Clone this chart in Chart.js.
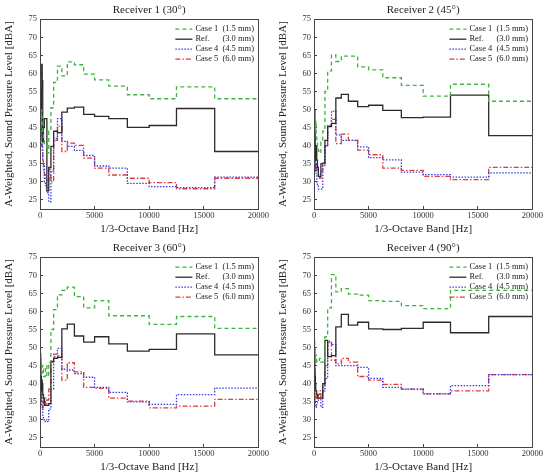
<!DOCTYPE html>
<html>
<head>
<meta charset="utf-8">
<script src="https://cdn.jsdelivr.net/npm/chart.js@4"></script>
<style>
  body { margin: 0; background: #fff; }
  .cell { position: absolute; width: 274px; height: 238px; }
</style>
</head>
<body>
<div class="cell" style="left:0;top:0"><canvas id="r1" width="274" height="238"></canvas></div>
<div class="cell" style="left:274px;top:0"><canvas id="r2" width="274" height="238"></canvas></div>
<div class="cell" style="left:0;top:238px"><canvas id="r3" width="274" height="238"></canvas></div>
<div class="cell" style="left:274px;top:238px"><canvas id="r4" width="274" height="238"></canvas></div>
<script>
// 1/3-octave band centre frequencies [Hz]
const bands = [20, 25, 31.5, 40, 50, 63, 80, 100, 125, 160, 200, 250, 315, 400, 500, 630, 800,
    1000, 1250, 1600, 2000, 2500, 3150, 4000, 5000, 6300, 8000, 10000, 12500, 16000, 20000];

const seriesNames = ['Case 1', 'Ref.', 'Case 4', 'Case 5'];
const thicknesses = ['(1.5 mm)', '(3.0 mm)', '(4.5 mm)', '(6.0 mm)'];
const receiverTitles = ['Receiver 1 (30°)', 'Receiver 2 (45°)', 'Receiver 3 (60°)', 'Receiver 4 (90°)'];
const yTicks = [25, 30, 35, 40, 45, 50, 55, 60, 65, 70, 75];
const xTicks = [0, 5000, 10000, 15000, 20000];

// Receiver 1 (30°) [dBA]
const r1Case1 = [63, 55, 50, 48, 50, 47, 49, 45, 50, 48, 46, 44, 42, 40, 40, 38, 44,
    50.5, 57.5, 62, 59.3, 63.2, 62.4, 59.8, 58.2, 56.5, 54.1, 53, 56.3, 53, 53];
const r1Ref = [44, 50, 46, 42, 48, 45, 52, 47, 55, 62.5, 58, 41, 45, 47.5, 47.5, 27.5, 34,
    39.8, 44, 43.6, 49.3, 50.4, 50.7, 48.7, 48.1, 47.5, 45.1, 45.6, 50.3, 38.4, 38.4];
const r1Case4 = [42, 48, 50, 45, 52, 44, 47, 50, 49, 46, 40, 36, 35, 30, 29, 27, 24.5,
    33, 42, 47.5, 41.2, 39.8, 38.7, 37.3, 34.4, 33.8, 29.6, 28.7, 28.4, 31.3, 31.3];
const r1Case5 = [48, 52.5, 45, 50, 44, 47, 42, 46, 44, 40, 38, 36, 33, 32, 31, 30.5, 33.5,
    30, 41.5, 45.4, 38.4, 40.7, 40.1, 36.6, 33.8, 31.9, 31, 29.8, 28.1, 31, 31];

// Receiver 2 (45°)
const r2Case1 = [59, 52, 48, 46, 48, 47, 45, 46, 44, 47, 43, 41, 39.5, 38.5, 38, 41, 44,
    55, 60.7, 65.1, 63.3, 64.8, 64.8, 61.8, 61, 58.8, 56.7, 53.7, 57, 52.3, 52.3];
const r2Ref = [45, 52, 61, 48, 44, 50, 44, 40, 36, 38, 40, 36, 34, 31.5, 31.5, 35, 35.2,
    41.5, 45.3, 46.2, 53.2, 54.2, 52.3, 50.8, 51.2, 49.8, 47.8, 47.9, 54, 42.8, 42.8];
const r2Case4 = [44, 50, 47, 42, 45, 40, 38, 36, 33, 35, 32, 30, 29, 28, 28, 28, 34.5,
    40, 45.5, 49.6, 43, 41.5, 41.5, 39.7, 36.7, 36.1, 32.7, 32, 31.3, 32.5, 32.5];
const r2Case5 = [50, 52, 46, 43, 40, 42, 38, 36, 34, 35, 33, 33, 34, 32, 31, 33, 35,
    40, 45.5, 47.3, 40.6, 43.2, 41.5, 38.8, 37.5, 33.8, 33.2, 31.5, 30.6, 34, 34];

// Receiver 3 (60°)
const r3Case1 = [52, 55, 48, 46, 50, 45, 47, 44, 46, 43, 45, 44, 42, 42, 45, 42, 46,
    55, 60.5, 64.6, 65.8, 66.7, 64.1, 61, 63, 58.8, 58.8, 56.4, 58.6, 55.3, 55.3];
const r3Ref = [50, 58, 45, 48, 37, 44, 40, 42, 38, 41, 40, 37, 36, 34, 34, 34, 34.5,
    46.2, 47, 47.3, 55.2, 56.5, 53.2, 51.5, 53, 51, 49, 49.5, 53.8, 48, 48];
const r3Case4 = [48, 45, 47, 42, 40, 38, 37, 35, 36, 34, 33, 31, 30, 29.5, 30, 29.5, 33,
    38.5, 47.5, 49.8, 44, 43.8, 42.8, 41.8, 39, 37.6, 35, 34.3, 37, 38.8, 38.8];
const r3Case5 = [46, 48, 44, 42, 43, 40, 38, 36, 37, 35, 34, 33, 35.5, 36, 34, 35.5, 38.5,
    46, 48.2, 47.8, 41, 45.8, 43.3, 39, 38.7, 36, 35.2, 33.3, 33.8, 35.7, 35.7];

// Receiver 4 (90°)
const r4Case1 = [55.5, 52, 50, 48, 49, 47, 50, 48, 46, 48, 47, 46, 46, 46, 47, 46, 46,
    53, 61, 70.2, 65.4, 66.3, 64.8, 64.5, 63, 62.8, 61.6, 60.8, 65.8, 65.8, 65.8];
const r4Ref = [54.5, 50, 48, 52, 45, 47, 44, 42, 40, 38, 38, 37, 36, 36, 36, 36, 40,
    52, 47.5, 47.8, 55.7, 59.2, 56.2, 57, 55.2, 55, 55.3, 57, 54.1, 58.6, 58.6];
const r4Case4 = [44, 46, 42, 40, 38, 37, 36, 35, 34, 33.5, 34, 34.5, 35, 36, 36, 33.5, 38,
    41.5, 51.5, 50.8, 45, 45, 45, 44.5, 41.5, 39, 38.5, 37.2, 39.5, 42.5, 42.5];
const r4Case5 = [48, 45, 44, 42, 40, 39, 38, 37, 37, 36, 36, 37, 36.5, 37, 38, 36, 39,
    45, 51.8, 46.5, 45.5, 47, 46, 42, 41, 39.8, 38.5, 37.2, 38, 42.5, 42.5];

const lineStyles = [
    { color: '#3fb33f', dash: [4, 3] },
    { color: '#2b2b2b', dash: [] },
    { color: '#3a3ae0', dash: [1.5, 1.5] },
    { color: '#e03c3c', dash: [5, 2, 1.5, 2] }
];

const serif = 'Liberation Serif';

// legend drawn inside the plot box, top right
const insideLegend = {
    id: 'insideLegend',
    afterDraw(chart) {
        const { ctx, chartArea } = chart;
        ctx.save();
        ctx.font = '8.5px "' + serif + '"';
        ctx.textBaseline = 'middle';
        chart.data.datasets.forEach((ds, i) => {
            const y = chartArea.top + 10 + i * 10;
            const x0 = chartArea.right - 83;
            ctx.strokeStyle = ds.borderColor;
            ctx.lineWidth = ds.borderWidth;
            ctx.setLineDash(ds.borderDash);
            ctx.beginPath();
            ctx.moveTo(x0, y);
            ctx.lineTo(x0 + 17, y);
            ctx.stroke();
            ctx.setLineDash([]);
            ctx.fillStyle = '#222';
            ctx.fillText(seriesNames[i], x0 + 20, y);
            ctx.fillText(thicknesses[i], x0 + 47, y);
        });
        ctx.restore();
    }
};

// closed box around the plot area
const frameBox = {
    id: 'frameBox',
    afterDatasetsDraw(chart) {
        const { ctx, chartArea } = chart;
        ctx.save();
        ctx.strokeStyle = '#444';
        ctx.lineWidth = 1;
        ctx.strokeRect(Math.round(chartArea.left) + 0.5, Math.round(chartArea.top) + 0.5,
            Math.round(chartArea.width), Math.round(chartArea.height));
        ctx.restore();
    }
};

function makeChart(canvasId, title, series) {
    const ctx = document.getElementById(canvasId).getContext('2d');
    new Chart(ctx, {
        type: 'line',
        data: {
            labels: bands,
            datasets: series.map((values, i) => ({
                label: seriesNames[i] + ' ' + thicknesses[i],
                data: values.map((v, j) => ({ x: bands[j], y: v })),
                borderColor: lineStyles[i].color,
                borderDash: lineStyles[i].dash,
                borderWidth: 1.3,
                pointRadius: 0,
                stepped: 'before',
                fill: false
            }))
        },
        options: {
            responsive: false,
            animation: false,
            devicePixelRatio: 1,
            layout: { padding: { left: 0, right: 9, top: 0, bottom: 0 } },
            plugins: {
                legend: { display: false },
                tooltip: { enabled: false },
                title: {
                    display: true,
                    text: title,
                    fullSize: false,
                    color: '#222',
                    font: { family: serif, size: 11, weight: 'normal' },
                    padding: { top: 4, bottom: 2 }
                }
            },
            scales: {
                x: {
                    type: 'linear',
                    min: 0,
                    max: 20000,
                    afterFit: s => { s.height = 29; },
                    afterBuildTicks: s => { s.ticks = xTicks.map(v => ({ value: v })); },
                    border: { display: false },
                    grid: { drawOnChartArea: false, tickLength: -3, color: '#444' },
                    ticks: {
                        color: '#333',
                        font: { family: serif, size: 8.5 },
                        padding: 5,
                        maxRotation: 0,
                        callback: v => String(v)
                    },
                    title: {
                        display: true,
                        text: '1/3-Octave Band [Hz]',
                        color: '#222',
                        font: { family: serif, size: 11 },
                        padding: { top: 0, bottom: 2 }
                    }
                },
                y: {
                    min: 22.5,
                    max: 75,
                    afterFit: s => { s.width = 40; },
                    afterBuildTicks: s => { s.ticks = yTicks.map(v => ({ value: v })); },
                    border: { display: false },
                    grid: { drawOnChartArea: false, tickLength: -3, color: '#444' },
                    ticks: {
                        color: '#333',
                        font: { family: serif, size: 8.5 },
                        padding: 6,
                        callback: v => String(v)
                    },
                    title: {
                        display: true,
                        text: 'A-Weighted, Sound Pressure Level [dBA]',
                        color: '#222',
                        font: { family: serif, size: 11 },
                        padding: { top: 3, bottom: 0 }
                    }
                }
            }
        },
        plugins: [frameBox, insideLegend]
    });
}

makeChart('r1', receiverTitles[0], [r1Case1, r1Ref, r1Case4, r1Case5]);
makeChart('r2', receiverTitles[1], [r2Case1, r2Ref, r2Case4, r2Case5]);
makeChart('r3', receiverTitles[2], [r3Case1, r3Ref, r3Case4, r3Case5]);
makeChart('r4', receiverTitles[3], [r4Case1, r4Ref, r4Case4, r4Case5]);
</script>
</body>
</html>
